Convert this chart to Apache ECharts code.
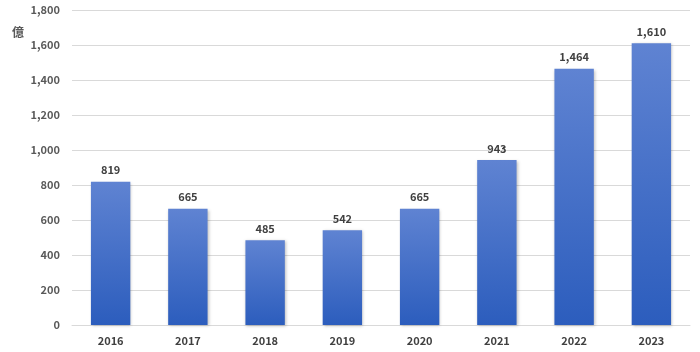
<!DOCTYPE html>
<html>
<head>
<meta charset="utf-8">
<script src="https://cdn.jsdelivr.net/npm/echarts@6/dist/echarts.min.js"></script>
<style>
  html, body { margin: 0; padding: 0; background: #fff; }
  #chart { width: 700px; height: 352px; }
</style>
</head>
<body>
<div id="chart"></div>
<script>
// 年度ごとの金額（億）
const years = ['2016', '2017', '2018', '2019', '2020', '2021', '2022', '2023'];
const amounts = [819, 665, 485, 542, 665, 943, 1464, 1610];
const yTicks = { min: 0, max: 1800, step: 200 };
const unitLabel = '億';

const chart = echarts.init(document.getElementById('chart'));
const font = '"Noto Sans CJK JP", "Noto Sans", sans-serif';

chart.setOption({
  animation: false,
  grid: { left: 72, right: 10, top: 10, bottom: 27, containLabel: false },
  graphic: [{
    type: 'text', left: 12, top: 26,
    style: { text: unitLabel, fill: '#595959', font: 'bold 12px ' + font }
  }],
  xAxis: {
    type: 'category',
    data: years,
    axisTick: { show: false },
    axisLine: { lineStyle: { color: '#d9d9d9' } },
    axisLabel: { color: '#404040', fontWeight: 'bold', fontSize: 11, fontFamily: font, margin: 10 }
  },
  yAxis: {
    type: 'value',
    min: yTicks.min, max: yTicks.max, interval: yTicks.step,
    axisLine: { show: false },
    axisTick: { show: false },
    splitLine: { lineStyle: { color: '#d9d9d9' } },
    axisLabel: {
      color: '#595959', fontWeight: 'bold', fontSize: 11, fontFamily: font, margin: 12,
      formatter: v => v.toLocaleString('en-US')
    }
  },
  series: [{
    type: 'bar',
    data: amounts,
    barWidth: '51%',
    itemStyle: {
      color: new echarts.graphic.LinearGradient(0, 0, 0, 1, [
        { offset: 0, color: '#5f83d2' },
        { offset: 1, color: '#2c5dbd' }
      ]),
      shadowColor: 'rgba(0,0,0,0.25)', shadowBlur: 3, shadowOffsetX: 1, shadowOffsetY: 1
    },
    label: {
      show: true, position: 'top', distance: 6,
      color: '#404040', fontWeight: 'bold', fontSize: 11, fontFamily: font,
      formatter: p => p.value.toLocaleString('en-US')
    }
  }]
});
</script>
</body>
</html>
